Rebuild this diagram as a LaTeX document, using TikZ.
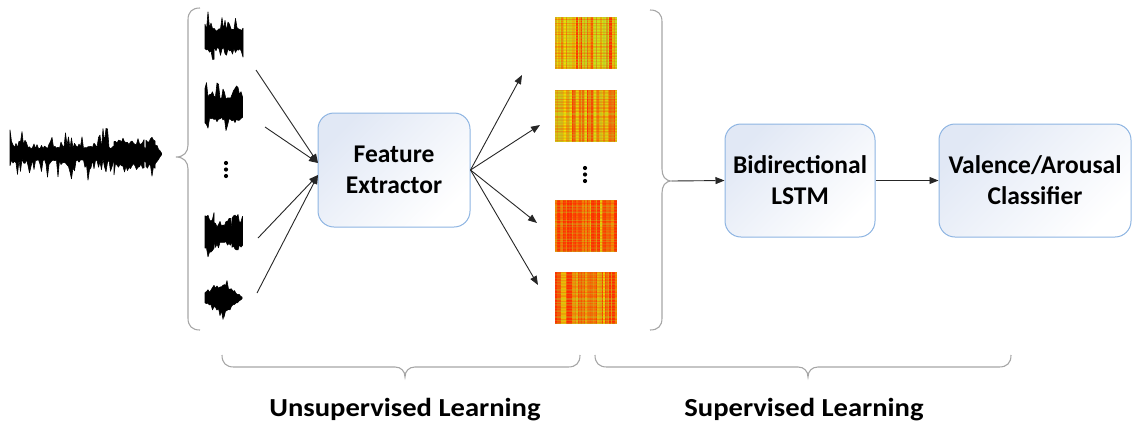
\documentclass[tikz,border=0pt]{standalone}
\usepackage{fontspec}
\setmainfont{Carlito}
\usetikzlibrary{arrows.meta}

\definecolor{boxedge}{HTML}{8DB4E2}
\definecolor{boxtint}{HTML}{E1E8F5}
\definecolor{braceline}{HTML}{A6A6A6}
\definecolor{sred}{HTML}{FF2A00}
\definecolor{syel}{HTML}{F2DC00}
\definecolor{sgrn}{HTML}{A8E632}

% one stretch of a waveform as a jagged filled outline:
% x0, x1, centre y, body start, body end, spike start, spike end, step
\newcommand\wblob[8]{%
  \pgfmathtruncatemacro\wn{(#2-#1)/#8}%
  \fill[wav] (#1,#3)
    \foreach \k [evaluate=\k as \wx using #1+\k*#8,
                 evaluate=\k as \wu using {(#4+(#5-#4)*\k/max(\wn,1))*(0.7+0.3*rnd)
                    + (#6+(#7-#6)*\k/max(\wn,1))*rnd^3}] in {0,...,\wn}
      { -- (\wx,#3-\wu) }
    -- (#1+\wn*#8,#3)
    \foreach \k [evaluate=\k as \wx using #1+(\wn-\k)*#8,
                 evaluate=\k as \wu using {(#5+(#4-#5)*\k/max(\wn,1))*(0.7+0.3*rnd)
                    + (#7+(#6-#7)*\k/max(\wn,1))*rnd^3}] in {0,...,\wn}
      { -- (\wx,#3+\wu) }
    -- cycle;}

% one feature map: left x, top y, exponent (larger = more yellow), green share
\newcommand\fmap[4]{%
  \fill[sred!60!syel] (#1,#2) rectangle ++(62,52);
  \foreach \c in {0,...,40}{%
    \pgfmathtruncatemacro\sp{100*rnd^#3}%
    \pgfmathtruncatemacro\sg{100-#4*rnd}%
    \colorlet{fmtmp}{syel!\sg!sgrn}%
    \fill[sred!\sp!fmtmp] (#1+\c*1.5,#2) rectangle ++(1.6,52);
  }
  \foreach \r in {0,...,34}{%
    \pgfmathtruncatemacro\sq{100*rnd}%
    \fill[sgrn!\sq!sred, opacity=0.33] (#1,#2+\r*1.5) rectangle ++(62,0.9);
  }}

\tikzset{
  wav/.style={fill=black, draw=black, line width=0.6pt, line join=round},
  block/.style={draw=boxedge, line width=1pt, rounded corners=16pt,
    left color=boxtint, right color=white, shading angle=45,
    align=center, font=\bfseries\fontsize{25.5}{31}\selectfont, inner sep=0pt},
  arr/.style={draw=black!85, line width=0.9pt, -{Triangle[length=9pt,width=7pt]}},
  brc/.style={draw=braceline, line width=1.1pt},
  lbl/.style={font=\bfseries\fontsize{26}{30}\selectfont, inner sep=0pt},
  vdot/.style={fill=black, draw=none}
}

\begin{document}
\begin{tikzpicture}[x=1pt, y=-1pt]
\useasboundingbox (0,0) rectangle (1132,424);
\pgfmathsetseed{11}

% full input recording
\wblob{10}{116}{154}{7}{7}{21}{21}{1.5}
\wblob{114}{144}{154}{13}{13}{9}{9}{1.5}
\wblob{142}{148}{154}{7}{7}{3}{3}{1.5}
\wblob{146}{156}{154}{14}{14}{9}{9}{1.5}
\wblob{154}{162}{154}{13}{1}{3}{0}{1.5}

% left brace grouping the segments
\draw[brc] (200,8) .. controls (192,8) and (188,12) .. (188,20) -- (188,145)
  .. controls (188,152) and (184,157) .. (176,157)
  .. controls (184,157) and (188,162) .. (188,169) -- (188,318)
  .. controls (188,326) and (192,330) .. (200,330);

% audio segments
\wblob{205}{214}{39}{13}{13}{16}{12}{1.5}
\wblob{213}{243}{39}{11}{11}{12}{12}{1.5}
\wblob{205}{243}{108}{12}{12}{16}{14}{1.5}
\wblob{205}{215}{234}{18}{18}{12}{10}{1.5}
\wblob{214}{233}{234}{10}{9}{8}{8}{1.5}
\wblob{232}{243}{234}{15}{15}{9}{9}{1.5}
\wblob{205}{225}{298}{5}{15}{4}{9}{1.5}
\wblob{224}{243}{298}{15}{1}{8}{0}{1.5}

\fill[vdot] (226,163) circle (2.1) (226,169.5) circle (2.1) (226,176) circle (2.1);

% feature extractor
\node[block, minimum width=152pt, minimum height=114pt] (fe) at (394,170) {Feature\\Extractor};

\coordinate (w1) at (256,70);
\coordinate (w2) at (265,127);
\coordinate (w3) at (258,238);
\coordinate (w4) at (257,293);
\coordinate (in1) at (318,163);
\coordinate (in2) at (318,175);
\draw[arr] (w1) -- (in1);
\draw[arr] (w2) -- (in1);
\draw[arr] (w3) -- (in2);
\draw[arr] (w4) -- (in2);

% feature maps
\fmap{555}{17}{1.7}{70}
\fmap{555}{90}{1.5}{60}
\fmap{555}{200}{0.45}{30}
\fmap{555}{272}{0.6}{40}
\node[inner sep=0pt, minimum width=62pt, minimum height=52pt] (s1) at (586,43) {};
\node[inner sep=0pt, minimum width=62pt, minimum height=52pt] (s2) at (586,116) {};
\node[inner sep=0pt, minimum width=62pt, minimum height=52pt] (s3) at (586,226) {};
\node[inner sep=0pt, minimum width=62pt, minimum height=52pt] (s4) at (586,298) {};

\fill[vdot] (585,168) circle (2.1) (585,174.5) circle (2.1) (585,181) circle (2.1);

\coordinate (o1) at (522,75);
\coordinate (o2) at (540,125);
\coordinate (o3) at (537,223);
\coordinate (o4) at (538,285);
\draw[arr] (fe.east) -- (o1);
\draw[arr] (fe.east) -- (o2);
\draw[arr] (fe.east) -- (o3);
\draw[arr] (fe.east) -- (o4);

% right brace gathering the feature maps
\coordinate (ctip) at (672,181);
\draw[brc] (650,10) .. controls (658,10) and (662,14) .. (662,22) -- (662,169)
  .. controls (662,176) and (665,181) .. (ctip)
  .. controls (665,181) and (662,186) .. (662,193) -- (662,318)
  .. controls (662,326) and (658,330) .. (650,330);

% sequence model and classifier
\node[block, minimum width=150pt, minimum height=113pt] (lstm) at (800,180.5) {Bidirectional\\LSTM};
\node[block, minimum width=192pt, minimum height=113pt] (cls) at (1035,180.5) {Valence/Arousal\\Classifier};

\draw[arr] (ctip) -- (lstm.west);
\draw[arr] (lstm.east) -- (cls.west);

% learning stages
\draw[brc] (222,355) .. controls (222,363) and (226,367) .. (234,367) -- (395,367)
  .. controls (401,367) and (405,371) .. (405,377)
  .. controls (405,371) and (409,367) .. (415,367) -- (568,367)
  .. controls (576,367) and (580,363) .. (580,355);
\draw[brc] (595,355) .. controls (595,363) and (599,367) .. (607,367) -- (798,367)
  .. controls (804,367) and (808,371) .. (808,377)
  .. controls (808,371) and (812,367) .. (818,367) -- (999,367)
  .. controls (1007,367) and (1011,363) .. (1011,355);

\node[lbl, anchor=base] (ul) at (405,416) {\scalebox{1.1}[1]{Unsupervised Learning}};
\node[lbl, anchor=base] (sl) at (804,416) {\scalebox{1.1}[1]{Supervised Learning}};
\end{tikzpicture}
\end{document}
